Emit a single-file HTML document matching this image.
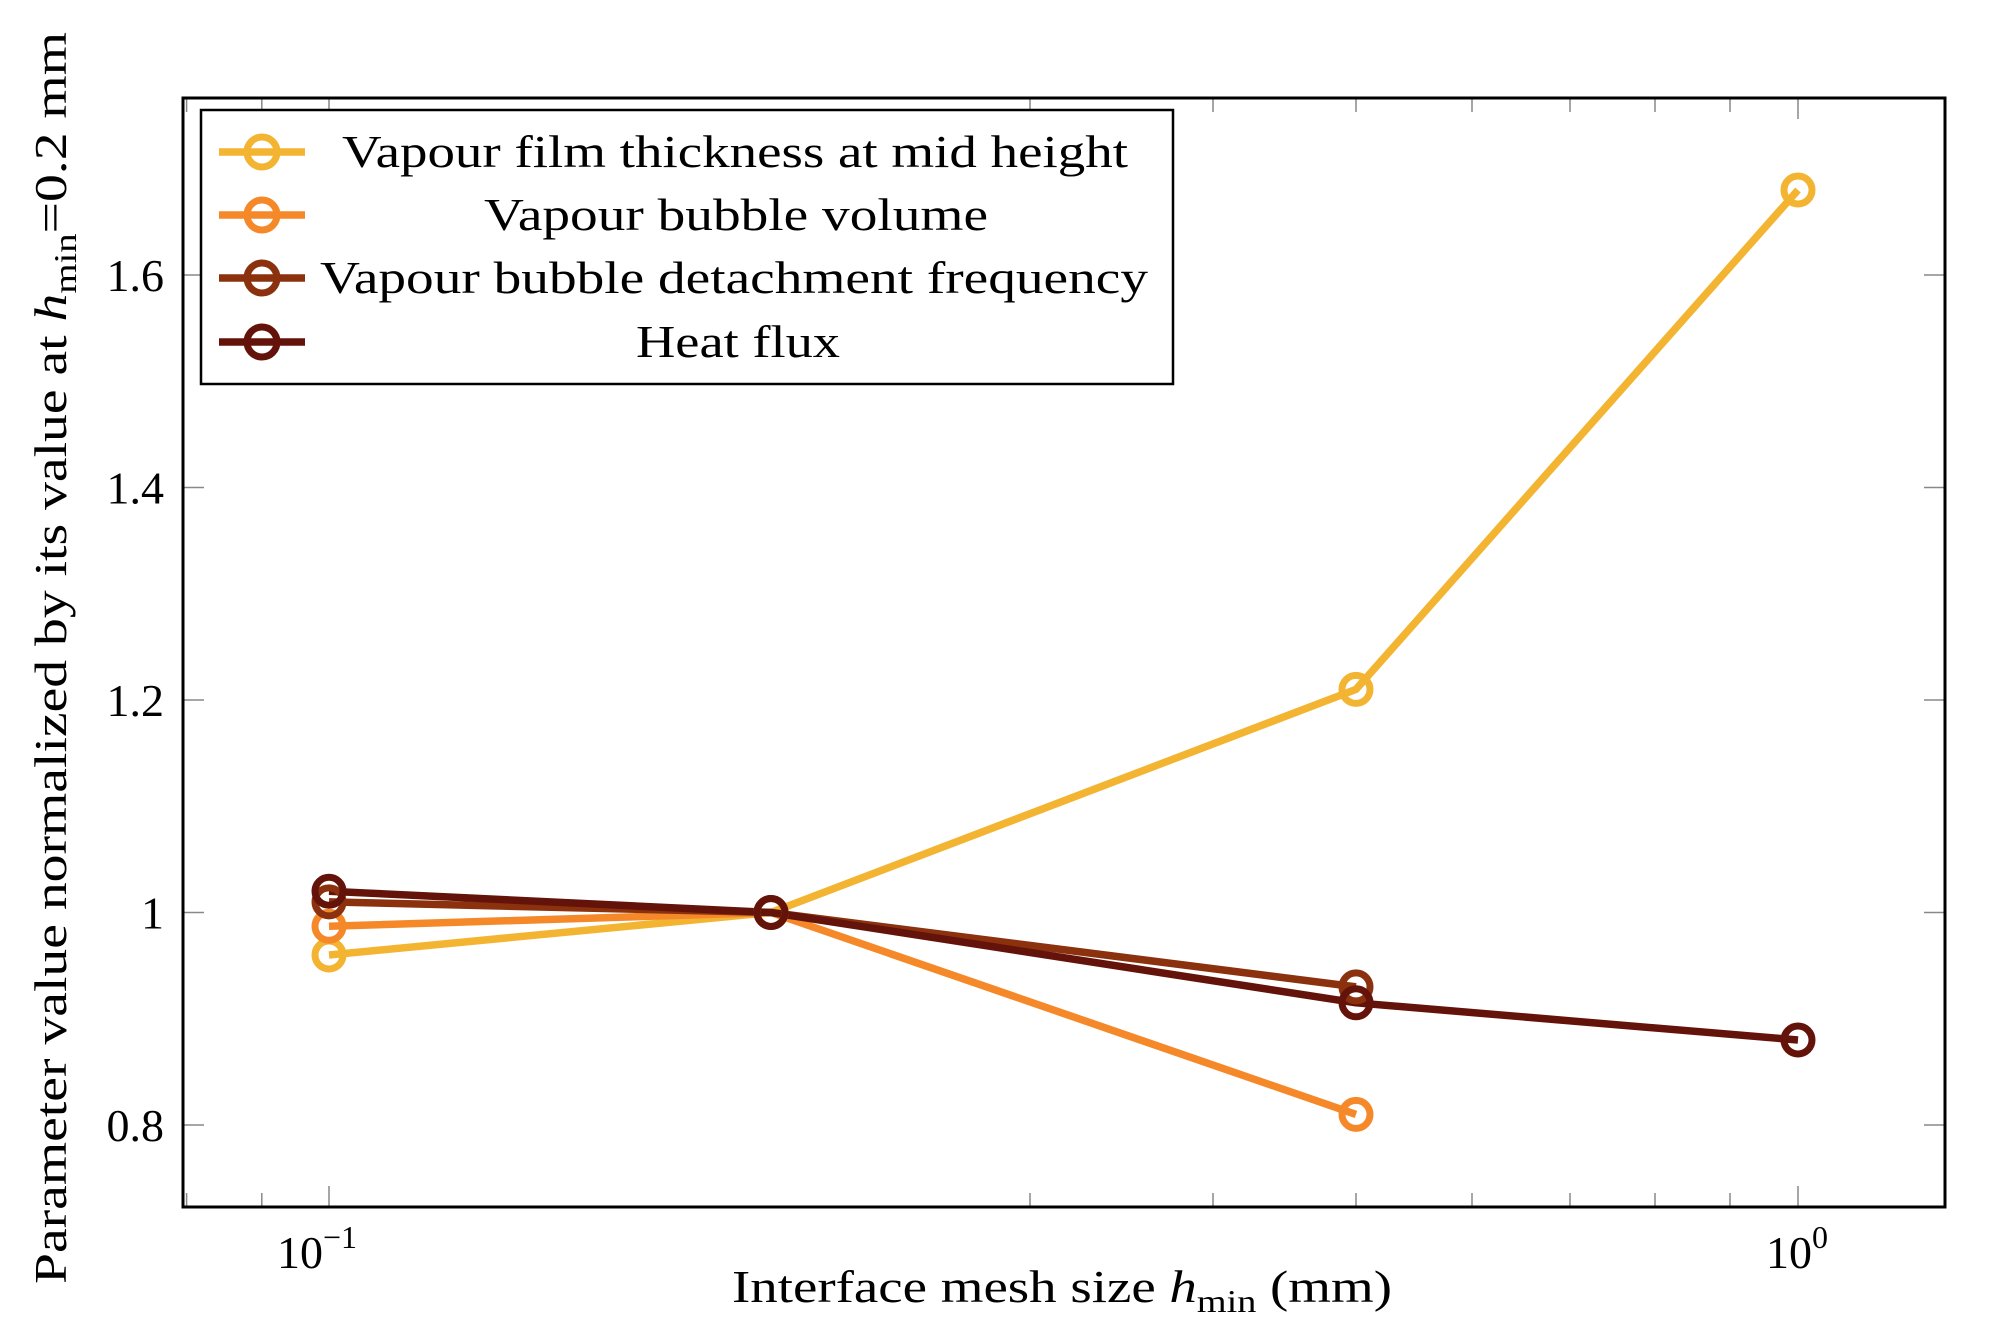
<!DOCTYPE html>
<html><head><meta charset="utf-8"><style>
html,body{margin:0;padding:0;background:#fff;}
svg{display:block;}
text{font-family:"Liberation Serif",serif;fill:#000;}
</style></head><body>
<svg width="1990" height="1331" viewBox="0 0 1990 1331" xmlns="http://www.w3.org/2000/svg">
<rect width="1990" height="1331" fill="#fff"/>
<g stroke="#888" stroke-width="1.5">
<line x1="186.6" y1="1207" x2="186.6" y2="1193"/>
<line x1="261.8" y1="1207" x2="261.8" y2="1193"/>
<line x1="1030" y1="1207" x2="1030" y2="1193"/>
<line x1="1213" y1="1207" x2="1213" y2="1193"/>
<line x1="1356" y1="1207" x2="1356" y2="1193"/>
<line x1="1472" y1="1207" x2="1472" y2="1193"/>
<line x1="1570" y1="1207" x2="1570" y2="1193"/>
<line x1="1655" y1="1207" x2="1655" y2="1193"/>
<line x1="1730" y1="1207" x2="1730" y2="1193"/>
<line x1="329" y1="1207" x2="329" y2="1186"/>
<line x1="1798" y1="1207" x2="1798" y2="1186"/>
<line x1="186.6" y1="98" x2="186.6" y2="112"/>
<line x1="261.8" y1="98" x2="261.8" y2="112"/>
<line x1="1030" y1="98" x2="1030" y2="112"/>
<line x1="1213" y1="98" x2="1213" y2="112"/>
<line x1="1356" y1="98" x2="1356" y2="112"/>
<line x1="1472" y1="98" x2="1472" y2="112"/>
<line x1="1570" y1="98" x2="1570" y2="112"/>
<line x1="1655" y1="98" x2="1655" y2="112"/>
<line x1="1730" y1="98" x2="1730" y2="112"/>
<line x1="329" y1="98" x2="329" y2="119"/>
<line x1="1798" y1="98" x2="1798" y2="119"/>
<line x1="183" y1="275" x2="204" y2="275"/><line x1="1945" y1="275" x2="1924" y2="275"/>
<line x1="183" y1="487.5" x2="204" y2="487.5"/><line x1="1945" y1="487.5" x2="1924" y2="487.5"/>
<line x1="183" y1="700" x2="204" y2="700"/><line x1="1945" y1="700" x2="1924" y2="700"/>
<line x1="183" y1="912.5" x2="204" y2="912.5"/><line x1="1945" y1="912.5" x2="1924" y2="912.5"/>
<line x1="183" y1="1125" x2="204" y2="1125"/><line x1="1945" y1="1125" x2="1924" y2="1125"/>
</g>
<g fill="none" stroke-width="7.5" stroke-linejoin="round">
<polyline stroke="#F3B432" points="329,955 771,912.5 1356,689.4 1798,190"/>
<polyline stroke="#F5892A" points="329,926.3 771,912.5 1356,1114.4"/>
<polyline stroke="#8B310E" points="329,901.9 771,912.5 1356,986.9"/>
<polyline stroke="#64130A" points="329,891.25 771,912.5 1356,1002.8 1798,1040"/>
</g>
<g fill="none" stroke-width="7">
<g stroke="#F3B432"><circle cx="329" cy="955" r="14"/><circle cx="771" cy="912.5" r="14"/><circle cx="1356" cy="689.4" r="14"/><circle cx="1798" cy="190" r="14"/></g>
<g stroke="#F5892A"><circle cx="329" cy="926.3" r="14"/><circle cx="771" cy="912.5" r="14"/><circle cx="1356" cy="1114.4" r="14"/></g>
<g stroke="#8B310E"><circle cx="329" cy="901.9" r="14"/><circle cx="771" cy="912.5" r="14"/><circle cx="1356" cy="986.9" r="14"/></g>
<g stroke="#64130A"><circle cx="329" cy="891.25" r="14"/><circle cx="771" cy="912.5" r="14"/><circle cx="1356" cy="1002.8" r="14"/><circle cx="1798" cy="1040" r="14"/></g>
</g>
<rect x="183" y="98" width="1762" height="1109" fill="none" stroke="#000" stroke-width="3"/>
<rect x="201" y="110" width="972" height="274" fill="#fff" stroke="#000" stroke-width="2.5"/>
<g stroke-width="7.5" fill="none">
<line x1="219" y1="152" x2="305" y2="152" stroke="#F3B432"/><circle cx="262" cy="152" r="15" stroke="#F3B432" stroke-width="7"/>
<line x1="219" y1="215" x2="305" y2="215" stroke="#F5892A"/><circle cx="262" cy="215" r="15" stroke="#F5892A" stroke-width="7"/>
<line x1="219" y1="278" x2="305" y2="278" stroke="#8B310E"/><circle cx="262" cy="278" r="15" stroke="#8B310E" stroke-width="7"/>
<line x1="219" y1="342" x2="305" y2="342" stroke="#64130A"/><circle cx="262" cy="342" r="15" stroke="#64130A" stroke-width="7"/>
</g>
<g font-size="46">
<text x="342" y="167" textLength="786" lengthAdjust="spacingAndGlyphs">Vapour film thickness at mid height</text>
<text x="484" y="230" textLength="504" lengthAdjust="spacingAndGlyphs">Vapour bubble volume</text>
<text x="320" y="293" textLength="828" lengthAdjust="spacingAndGlyphs">Vapour bubble detachment frequency</text>
<text x="636" y="357" textLength="204" lengthAdjust="spacingAndGlyphs">Heat flux</text>
</g>
<g font-size="46" text-anchor="end">
<text x="164" y="291">1.6</text>
<text x="164" y="503.5">1.4</text>
<text x="164" y="716">1.2</text>
<text x="164" y="928.5">1</text>
<text x="164" y="1141">0.8</text>
</g>
<text x="277" y="1268" font-size="46">10<tspan font-size="32" dy="-20">−1</tspan></text>
<text x="1766" y="1268" font-size="46">10<tspan font-size="32" dy="-20">0</tspan></text>
<text x="732" y="1302" font-size="46" textLength="660" lengthAdjust="spacingAndGlyphs">Interface mesh size <tspan font-style="italic">h</tspan><tspan font-size="32" dy="10">min</tspan><tspan dy="-10"> (mm)</tspan></text>
<text transform="translate(66,1284) rotate(-90)" font-size="46" textLength="1252" lengthAdjust="spacingAndGlyphs">Parameter value normalized by its value at <tspan font-style="italic">h</tspan><tspan font-size="32" dy="10">min</tspan><tspan dy="-10">=0.2 mm</tspan></text>
</svg>
</body></html>
